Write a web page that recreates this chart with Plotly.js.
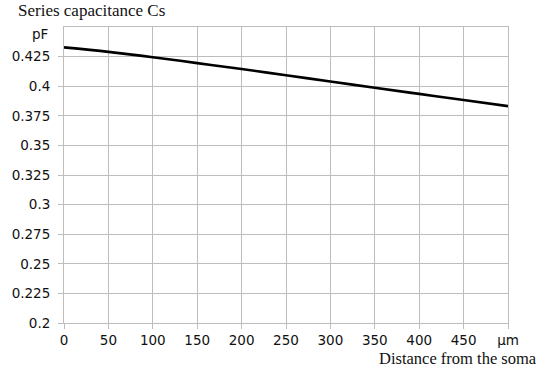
<!DOCTYPE html>
<html><head><meta charset="utf-8">
<script src="https://cdn.plot.ly/plotly-3.0.1.min.js"></script>
<style>body{margin:0;background:#fff}#c{width:536px;height:367px}</style>
</head><body><div id="c"></div>
<script>
const distance = [0, 50, 100, 150, 200, 250, 300, 350, 400, 450, 500];
const capacitance = [0.4328, 0.4290, 0.4245, 0.4195, 0.4145, 0.4092, 0.4040, 0.3987, 0.3935, 0.3883, 0.3832];
const xTickVals = [0, 50, 100, 150, 200, 250, 300, 350, 400, 450, 500];
const xTickText = ['0', '50', '100', '150', '200', '250', '300', '350', '400', '450', 'μm'];
const yTickVals = [0.2, 0.225, 0.25, 0.275, 0.3, 0.325, 0.35, 0.375, 0.4, 0.425];
const yTickText = ['0.2', '0.225', '0.25', '0.275', '0.3', '0.325', '0.35', '0.375', '0.4', '0.425'];

const trace = {x: distance, y: capacitance, type: 'scatter', mode: 'lines',
  line: {color: '#000', width: 2.6, shape: 'spline'}, hoverinfo: 'skip'};

const tf = {family: 'DejaVu Sans, sans-serif', size: 13.5, color: '#111'};
const layout = {
  width: 536, height: 367,
  margin: {l: 64, r: 28, t: 27, b: 44},
  paper_bgcolor: '#fff', plot_bgcolor: '#fff',
  showlegend: false,
  font: tf,
  xaxis: {range: [0, 500], tickvals: xTickVals, ticktext: xTickText,
    showgrid: true, gridcolor: '#bdbdbd', gridwidth: 1,
    showline: true, linecolor: '#bdbdbd', mirror: true,
    ticks: 'outside', ticklen: 5, tickcolor: '#bdbdbd', zeroline: false,
    ticklabelstandoff: 0, tickfont: tf},
  yaxis: {range: [0.2, 0.45], tickvals: yTickVals, ticktext: yTickText,
    showgrid: true, gridcolor: '#bdbdbd', gridwidth: 1,
    showline: true, linecolor: '#bdbdbd', mirror: true,
    ticks: 'outside', ticklen: 5, tickcolor: '#bdbdbd', zeroline: false,
    ticklabelstandoff: 5, tickfont: tf},
  annotations: [
    {text: 'Series capacitance Cs', xref: 'paper', yref: 'paper', x: -0.107, y: 1.0, yshift: 5,
     xanchor: 'left', yanchor: 'bottom', showarrow: false,
     font: {family: 'Liberation Serif, serif', size: 17, color: '#111'}},
    {text: 'pF', xref: 'paper', yref: 'paper', x: -0.055, y: 1.0, yshift: -17,
     xanchor: 'center', yanchor: 'bottom', showarrow: false,
     font: {family: 'DejaVu Sans, sans-serif', size: 13.5, color: '#111'}},
    {text: 'Distance from the soma', xref: 'paper', yref: 'paper', x: 1.0, xshift: 30, y: 0, yshift: -44,
     xanchor: 'right', yanchor: 'bottom', showarrow: false, height: 15, borderpad: 0, valign: 'middle',
     font: {family: 'Liberation Serif, serif', size: 16.5, color: '#111'}}
  ]
};
Plotly.newPlot('c', [trace], layout, {staticPlot: true, displayModeBar: false});
</script></body></html>
